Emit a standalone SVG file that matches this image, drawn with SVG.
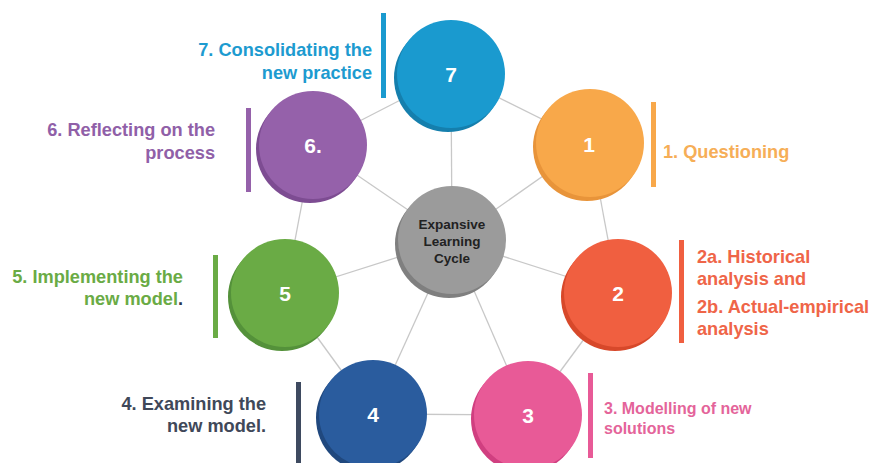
<svg xmlns="http://www.w3.org/2000/svg" width="872" height="463" viewBox="0 0 872 463">
<style>
.lbl{font-family:"Liberation Sans",Arial,sans-serif;font-weight:bold;font-size:18.2px}
.num{font-family:"Liberation Sans",Arial,sans-serif;font-weight:bold;font-size:21px;fill:#fff;text-anchor:middle}
.ctr{font-family:"Liberation Sans",Arial,sans-serif;font-weight:bold;font-size:13.5px;fill:#222;text-anchor:middle}
.con line{stroke:#c8c8c8;stroke-width:1.3}
.r{text-anchor:end}
</style>
<rect width="872" height="463" fill="#fff"/>
<g id="connectors" class="con">
<line x1="452" y1="240" x2="451" y2="74"/>
<line x1="452" y1="240" x2="590" y2="143"/>
<line x1="452" y1="240" x2="618" y2="293"/>
<line x1="452" y1="240" x2="528" y2="415"/>
<line x1="452" y1="240" x2="373" y2="414"/>
<line x1="452" y1="240" x2="285" y2="293"/>
<line x1="452" y1="240" x2="313" y2="145"/>
<line x1="451" y1="74" x2="590" y2="143"/>
<line x1="590" y1="143" x2="618" y2="293"/>
<line x1="618" y1="293" x2="528" y2="415"/>
<line x1="528" y1="415" x2="373" y2="414"/>
<line x1="373" y1="414" x2="285" y2="293"/>
<line x1="285" y1="293" x2="313" y2="145"/>
<line x1="313" y1="145" x2="451" y2="74"/>
</g>
<g id="center">
<circle cx="449" cy="244" r="54" fill="#7f7f7f"/>
<circle cx="452" cy="240" r="54" fill="#9b9b9b"/>
<text class="ctr" x="452" y="229">Expansive</text>
<text class="ctr" x="452" y="246">Learning</text>
<text class="ctr" x="452" y="263">Cycle</text>
</g>
<g id="n7">
<circle cx="448" cy="78" r="54" fill="#157fad"/>
<circle cx="451" cy="74" r="54" fill="#1a9acf"/>
<text class="num" x="451" y="82">7</text>
<rect x="381" y="13" width="5" height="85" fill="#1a9acf"/>
<text class="lbl r" x="372" y="56" fill="#1d9bd0">7. Consolidating the</text>
<text class="lbl r" x="372" y="79" fill="#1d9bd0">new practice</text>
</g>
<g id="n1">
<circle cx="587" cy="147" r="54" fill="#e8943a"/>
<circle cx="590" cy="143" r="54" fill="#f8a84a"/>
<text class="num" x="589" y="152">1</text>
<rect x="651" y="102" width="5" height="85" fill="#f8a84a"/>
<text class="lbl" x="663" y="158" fill="#f6ae57">1. Questioning</text>
</g>
<g id="n2">
<circle cx="615" cy="297" r="54" fill="#d7482a"/>
<circle cx="618" cy="293" r="54" fill="#f05f40"/>
<text class="num" x="618" y="301">2</text>
<rect x="679" y="240" width="5" height="103" fill="#f05f40"/>
<text class="lbl" x="697" y="263" fill="#ef6548">2a. Historical</text>
<text class="lbl" x="697" y="285" fill="#ef6548">analysis and</text>
<text class="lbl" x="697" y="313" fill="#ef6548">2b. Actual-empirical</text>
<text class="lbl" x="697" y="335" fill="#ef6548">analysis</text>
</g>
<g id="n3">
<circle cx="525" cy="419" r="54" fill="#d03f80"/>
<circle cx="528" cy="415" r="54" fill="#e85a97"/>
<text class="num" x="528" y="423">3</text>
<rect x="588" y="373" width="5" height="85" fill="#e85a97"/>
<text class="lbl" x="604" y="414" fill="#e4649a" style="font-size:16px">3. Modelling of new</text>
<text class="lbl" x="604" y="434" fill="#e4649a" style="font-size:16px">solutions</text>
</g>
<g id="n4">
<circle cx="370" cy="418" r="54" fill="#20487e"/>
<circle cx="373" cy="414" r="54" fill="#2a5c9e"/>
<text class="num" x="373" y="422">4</text>
<rect x="296" y="382" width="5" height="81" fill="#3e4a60"/>
<text class="lbl r" x="266" y="410" fill="#404859">4. Examining the</text>
<text class="lbl r" x="266" y="432" fill="#404859">new model.</text>
</g>
<g id="n5">
<circle cx="282" cy="297" r="54" fill="#54913a"/>
<circle cx="285" cy="293" r="54" fill="#6aab45"/>
<text class="num" x="285" y="301">5</text>
<rect x="213" y="255" width="5" height="83" fill="#6aab45"/>
<text class="lbl r" x="183" y="283" fill="#6aab45">5. Implementing the</text>
<text class="lbl r" x="183" y="305" fill="#6aab45">new model<tspan fill="#2a3550">.</tspan></text>
</g>
<g id="n6">
<circle cx="310" cy="149" r="54" fill="#7d4c92"/>
<circle cx="313" cy="145" r="54" fill="#9561aa"/>
<text class="num" x="313" y="153">6.</text>
<rect x="246" y="108" width="5" height="84" fill="#9561aa"/>
<text class="lbl r" x="215" y="136" fill="#9060a8">6. Reflecting on the</text>
<text class="lbl r" x="215" y="159" fill="#9060a8">process</text>
</g>
</svg>
